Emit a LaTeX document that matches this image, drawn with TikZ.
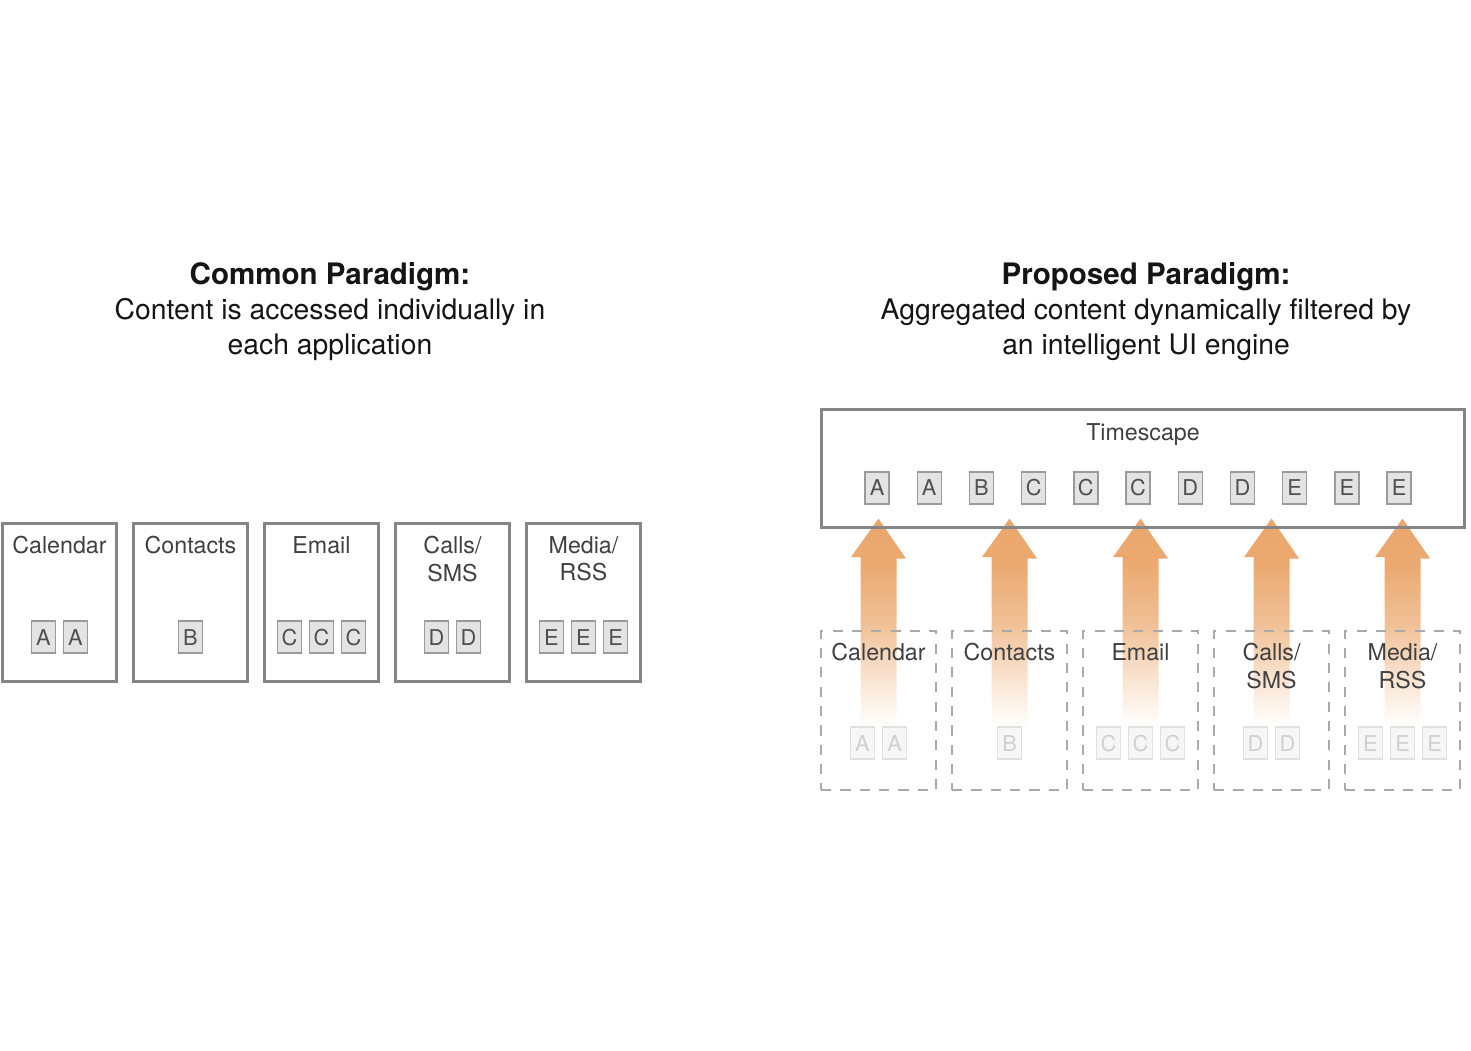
\documentclass[tikz,border=0pt]{standalone}
\usepackage{fontspec}
\setmainfont{TeX Gyre Heros}
\usetikzlibrary{positioning,backgrounds}

\definecolor{boxline}{HTML}{858585}
\definecolor{itemfill}{HTML}{E3E3E3}
\definecolor{itemline}{HTML}{9A9A9A}
\definecolor{itemtext}{HTML}{505050}
\definecolor{labeltext}{HTML}{404040}
\definecolor{titletext}{HTML}{151515}
\definecolor{fadefill}{HTML}{F6F6F6}
\definecolor{fadeline}{HTML}{E0E0E0}
\definecolor{fadetext}{HTML}{D0D0D0}
\definecolor{dashline}{HTML}{AAAAAA}
\definecolor{arrowor}{HTML}{E9A264}

\pgfdeclareverticalshading{arrowfade}{100bp}{color(0bp)=(white); color(25bp)=(white);
  color(36bp)=(arrowor!28!white); color(50bp)=(arrowor!68!white);
  color(64bp)=(arrowor!92!white); color(100bp)=(arrowor)}

\begin{document}
\begin{tikzpicture}[x=0.01cm, y=-0.01cm,
    appbox/.style={draw=boxline, line width=0.85pt, minimum width=1.14cm, minimum height=1.58cm, inner sep=0pt},
    srcbox/.style={draw=dashline, line width=0.7pt, dash pattern=on 2.9pt off 2.6pt, minimum width=1.15cm, minimum height=1.59cm, inner sep=0pt},
    applabel/.style={inner sep=0pt, align=center, text=labeltext, font=\fontsize{6.6}{7.9}\selectfont},
    item/.style={draw=itemline, fill=itemfill, line width=0.4pt, minimum width=0.24cm, minimum height=0.32cm, inner sep=0pt, text=itemtext, font=\fontsize{6.2}{7}\selectfont},
    faded/.style={item, draw=fadeline, fill=fadefill, text=fadetext},
    heading/.style={anchor=north, inner sep=0pt, align=center, text=titletext, font=\fontsize{8.05}{9.9}\selectfont}]
  \useasboundingbox (0,0) rectangle (1471,1050);

  % headings
  \node[heading] (common) at (330,262) {{\fontsize{8.4}{9.9}\selectfont\bfseries Common Paradigm:}\\Content is accessed individually in\\each application};
  \node[heading] (proposed) at (1146,262) {{\fontsize{8.4}{9.9}\selectfont\bfseries Proposed Paradigm:}\\Aggregated content dynamically filtered by\\an intelligent UI engine};

  % common paradigm: one box per application
  \foreach \nm/\txt/\ltr/\num [count=\i from 0] in {cal/Calendar/A/2, con/Contacts/B/1, eml/Email/C/3, sms/{Calls/\\SMS}/D/2, med/{Media/\\RSS}/E/3} {
    \node[appbox] (\nm) at (59.5+131*\i,602.5) {};
    \node[applabel, below=0.135cm of \nm.north] (\nm-lbl) {\txt};
    \foreach \k in {1,...,\num}
      \node[item] (\nm-\k) at ([xshift={(\k-(\num+1)/2)*0.32cm}, yshift=-0.345cm]\nm.center) {\ltr};
  }

  % proposed paradigm: timescape
  \node[appbox, minimum width=6.43cm, minimum height=1.18cm] (ts) at (1143,468.5) {};
  \node[applabel, below=0.145cm of ts.north] (ts-lbl) {Timescape};
  \foreach \ltr [count=\k from 0] in {A,A,B,C,C,C,D,D,E,E,E}
    \node[item] (ts-\k) at (877+52.2*\k,488) {\ltr};

  % sources feeding the timescape
  \foreach \nm/\txt/\ltr/\num [count=\i from 0] in {cal/Calendar/A/2, con/Contacts/B/1, eml/Email/C/3, sms/{Calls/\\SMS}/D/2, med/{Media/\\RSS}/E/3} {
    \node[srcbox] (s\nm) at (878.5+131*\i,710.5) {};
    \node[applabel, below=0.13cm of s\nm.north] (s\nm-lbl) {\txt};
    \foreach \k in {1,...,\num}
      \node[faded] (s\nm-\k) at ([xshift={(\k-(\num+1)/2)*0.32cm}, yshift=-0.325cm]s\nm.center) {\ltr};
    \path (ts.south -| s\nm) ++(0,-10.5) coordinate (s\nm-tip);
    \path (s\nm.center) ++(0,16.5) coordinate (s\nm-base);
    \begin{scope}[on background layer]
      \shade[shading=arrowfade] (s\nm-tip) -- ++(27.5,40) -- ++(-9.5,0) |- (s\nm-base)
        -- ++(-18,0) -- ++(0,-170) -- ++(-9.5,0) -- cycle;
    \end{scope}
  }
\end{tikzpicture}
\end{document}
